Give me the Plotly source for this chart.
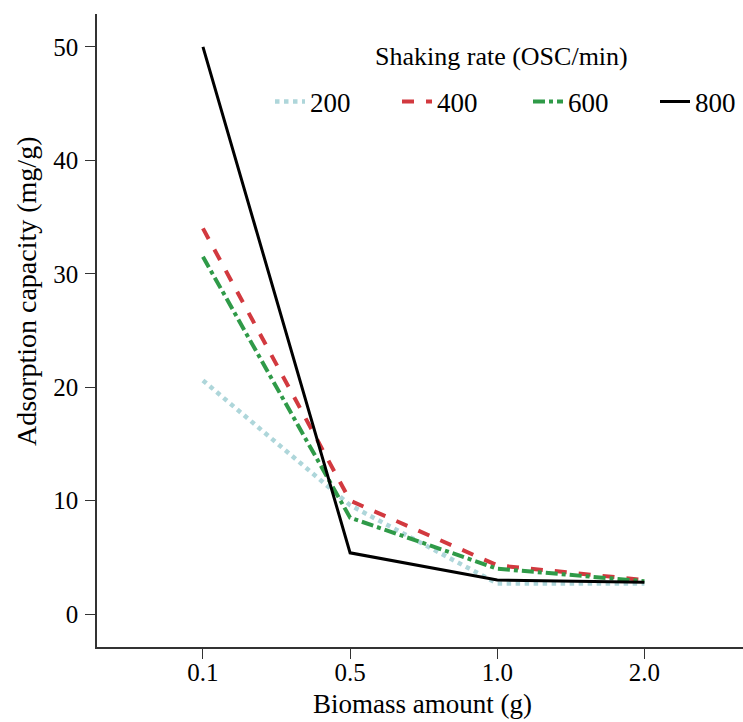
import plotly.graph_objects as go

biomass = ["0.1", "0.5", "1.0", "2.0"]
rate_200 = [20.6, 9.6, 2.7, 2.7]
rate_400 = [34.0, 10.0, 4.3, 3.0]
rate_600 = [31.5, 8.5, 4.0, 2.9]
rate_800 = [50.0, 5.4, 3.0, 2.8]
series_names = ["200", "400", "600", "800"]
y_ticks = [0, 10, 20, 30, 40, 50]

FONT = "Liberation Serif, Times New Roman, serif"

styles = [
    dict(color="#aed6da", width=4.5, dash="dot"),
    dict(color="#d2393f", width=4, dash="dash"),
    dict(color="#2f9a48", width=4, dash="dashdot"),
    dict(color="#000000", width=3, dash="solid"),
]
legend_ids = ["legend", "legend2", "legend3", "legend4"]
legend_x_px = [278, 405, 536, 663]  # left edge of each legend sample (page px)

L, T, W, H = 97, 14, 646, 633

fig = go.Figure()
for name, vals, st, lid in zip(series_names, [rate_200, rate_400, rate_600, rate_800], styles, legend_ids):
    fig.add_trace(go.Scatter(x=biomass, y=vals, mode="lines", name=name, line=st,
                             legend=lid, showlegend=True))

legend_layout = {}
for lid, px in zip(legend_ids, legend_x_px):
    legend_layout[lid] = dict(
        x=(px - 8 - L) / W, y=1 - (102 - T) / H, xanchor="left", yanchor="middle",
        orientation="h", font=dict(size=27), bgcolor="rgba(0,0,0,0)", visible=True,
    )

fig.update_layout(
    width=743, height=722,
    showlegend=True,
    margin=dict(l=L, r=0, t=T, b=722 - T - H),
    plot_bgcolor="white", paper_bgcolor="white",
    font=dict(family=FONT, size=25, color="black"),
    xaxis=dict(
        type="category", range=[-0.72, 3.67], automargin=False,
        showline=True, linecolor="#333", linewidth=1.5,
        ticks="outside", ticklen=10, tickcolor="#333",
        tickfont=dict(size=25), ticklabelstandoff=-8,
        showgrid=False, zeroline=False,
    ),
    yaxis=dict(
        range=[-2.9, 52.9], tickvals=y_ticks, automargin=False,
        showline=True, linecolor="#333", linewidth=1.5,
        ticks="outside", ticklen=10, tickcolor="#333",
        tickfont=dict(size=25), ticklabelstandoff=2,
        showgrid=False, zeroline=False,
    ),
    annotations=[
        dict(text="Shaking rate (OSC/min)", xref="paper", yref="paper",
             x=(501 - L) / W, y=1 - (57 - T) / H, xanchor="center", yanchor="middle",
             showarrow=False, font=dict(size=26)),
        dict(text="Biomass amount (g)", xref="paper", yref="paper", x=(422 - L) / W,
             y=-(704 - T - H) / H, xanchor="center", yanchor="middle", showarrow=False,
             font=dict(size=27)),
        dict(text="Adsorption capacity (mg/g)", xref="paper", yref="paper",
             x=(27 - L) / W, y=1 - (292 - T) / H,
             xanchor="center", yanchor="middle", textangle=-90, showarrow=False,
             font=dict(size=28)),
    ],
    **legend_layout,
)

fig.write_html("out.html", config={"displayModeBar": False},
               post_script="document.body.style.margin='0';")
